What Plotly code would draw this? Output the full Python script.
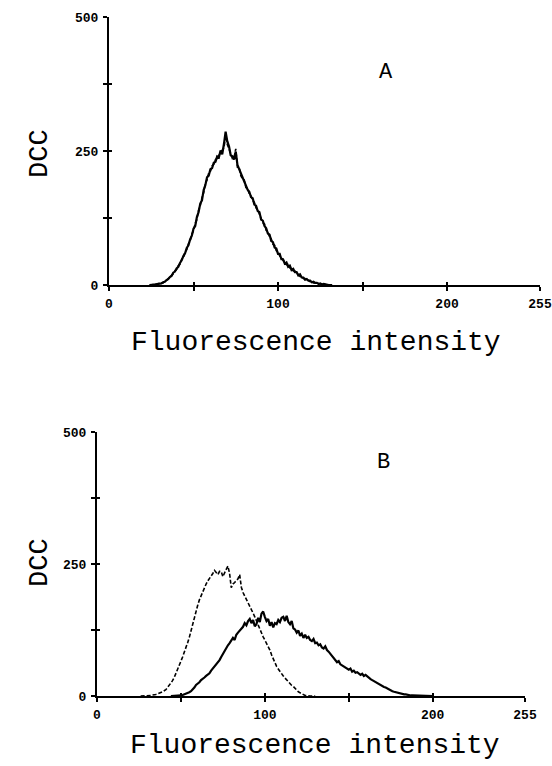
import plotly.graph_objects as go

# ---------------- data ----------------
# Panel A: channel 24..132
a_x = list(range(24, 133))
a_solid = [0, 0, 0, 1, 1, 2,
           2, 3, 5, 6, 9, 11, 15, 17, 23, 25,
           31, 34, 41, 46, 54, 59, 69, 74, 85, 92,
           105, 110, 127, 136, 152, 158, 177, 186, 201, 204,
           216, 218, 228, 230, 240, 238, 251, 244, 263, 286,
           268, 259, 242, 240, 234, 249, 224, 216, 207, 202,
           192, 186, 178, 174, 164, 162, 150, 148, 138, 136,
           122, 120, 110, 106, 96, 94, 82, 80, 70, 68,
           58, 58, 48, 48, 40, 42, 34, 36, 28, 30,
           24, 24, 18, 20, 14, 14, 10, 11, 8, 8,
           5, 6, 4, 4, 2, 3, 1, 2, 1, 1,
           0, 0, 0]
a_dashed = [0, 0, 1, 1, 2, 2,
            3, 4, 4, 7, 8, 12, 14, 18, 21, 26,
            29, 36, 39, 48, 51, 62, 66, 77, 82, 95,
            101, 115, 122, 140, 148, 163, 172, 190, 196, 209,
            212, 222, 225, 234, 236, 242, 246, 252, 256, 278,
            262, 254, 246, 236, 238, 254, 220, 220, 204, 198,
            196, 182, 180, 170, 166, 158, 154, 144, 140, 132,
            126, 116, 114, 102, 98, 90, 86, 76, 74, 64,
            62, 54, 52, 46, 44, 38, 38, 32, 30, 26,
            26, 22, 20, 16, 16, 12, 12, 9, 9, 6,
            6, 4, 4, 3, 3, 2, 2, 1, 1, 0,
            0, 0, 0]

# Panel B dashed (control): channel 26..130
b_dashed_x = list(range(26, 131))
b_dashed = [0, 0, 0, 0,
            0, 1, 1, 2, 2, 3, 4, 5, 6, 8,
            10, 12, 16, 20, 24, 29, 35, 42, 50, 58,
            66, 74, 82, 92, 101, 111, 124, 138, 150, 160,
            172, 182, 190, 198, 205, 212, 218, 222, 228, 232,
            238, 234, 230, 236, 236, 226, 234, 240, 246, 232,
            205, 212, 215, 218, 222, 230, 206, 196, 190, 182,
            176, 170, 163, 157, 150, 142, 135, 128, 120, 112,
            106, 100, 93, 87, 78, 70, 62, 56, 51, 46,
            42, 38, 34, 30, 27, 23, 20, 18, 14, 11,
            8, 6, 4, 2, 1, 1, 0, 0, 0, 0,
            0]

# Panel B solid (treated): channel 44..200
b_solid_x = list(range(44, 201))
b_solid = [0, 0, 0, 0, 0, 1,
           1, 2, 3, 4, 5, 7, 9, 12, 16, 21,
           23, 26, 30, 32, 35, 38, 41, 43, 48, 52,
           55, 60, 64, 68, 74, 80, 86, 90, 96, 100,
           104, 110, 106, 116, 120, 124, 128, 131, 138, 134,
           142, 146, 138, 144, 132, 136, 148, 140, 156, 160,
           150, 142, 146, 133, 140, 130, 138, 136, 144, 140,
           148, 150, 142, 152, 140, 136, 142, 128, 126, 120,
           124, 114, 118, 110, 116, 110, 112, 106, 104, 108,
           100, 101, 96, 98, 92, 90, 94, 87, 84, 80,
           75, 72, 68, 64, 66, 60, 58, 56, 54, 52,
           50, 52, 46, 48, 44, 45, 43, 40, 42, 38,
           40, 37, 34, 32, 30, 28, 26, 24, 22, 20,
           19, 17, 16, 14, 12, 11, 9, 8, 7, 6,
           6, 5, 4, 3, 3, 2, 2, 1, 1, 1,
           0, 0, 0, 0, 0, 0, 0, 0, 0, 0, 0]

x_tickvals = [0, 50, 100, 150, 200, 255]
x_ticktext = ["0", "", "100", "", "200", "255"]
y_tickvals = [0, 125, 250, 375, 500]
y_ticktext = ["0", "", "250", "", "500"]

# ---------------- figure ----------------
W, H = 552, 766
fig = go.Figure()

solid = dict(color="black", width=2.2)
dashed = dict(color="black", width=1.6, dash="4px,2px")

fig.add_trace(go.Scatter(x=a_x, y=a_dashed, mode="lines", line=dashed, xaxis="x", yaxis="y"))
fig.add_trace(go.Scatter(x=a_x, y=a_solid, mode="lines", line=solid, xaxis="x", yaxis="y"))
fig.add_trace(go.Scatter(x=b_dashed_x, y=b_dashed, mode="lines", line=dashed, xaxis="x2", yaxis="y2"))
fig.add_trace(go.Scatter(x=b_solid_x, y=b_solid, mode="lines", line=solid, xaxis="x2", yaxis="y2"))
# invisible traces to activate inner-tick overlay axes
fig.add_trace(go.Scatter(x=[None], y=[None], xaxis="x3", yaxis="y3", showlegend=False))
fig.add_trace(go.Scatter(x=[None], y=[None], xaxis="x4", yaxis="y4", showlegend=False))

tickfont = dict(family="Liberation Mono", size=13, color="black", weight="bold")


def xa(domain, anchor):
    return dict(domain=domain, anchor=anchor, range=[0, 255], tickmode="array",
                tickvals=x_tickvals, ticktext=x_ticktext, ticks="outside", ticklen=4,
                tickwidth=1.5, tickcolor="black", showline=True, linewidth=2,
                linecolor="black", showgrid=False, zeroline=False, tickfont=tickfont,
                ticklabelstandoff=1, automargin=False)


def ya(domain, anchor):
    return dict(domain=domain, anchor=anchor, range=[0, 500], tickmode="array",
                tickvals=y_tickvals, ticktext=y_ticktext, ticks="outside", ticklen=4,
                tickwidth=1.5, tickcolor="black", showline=True, linewidth=2,
                linecolor="black", showgrid=False, zeroline=False, tickfont=tickfont,
                ticklabelstandoff=2, automargin=False)


def inner_x(over, anchor):
    return dict(overlaying=over, anchor=anchor, range=[0, 255], tickmode="array",
                tickvals=x_tickvals, ticks="inside", ticklen=3, tickwidth=1.5,
                tickcolor="black", showticklabels=False, showline=False,
                showgrid=False, zeroline=False, automargin=False)


def inner_y(over, anchor):
    return dict(overlaying=over, anchor=anchor, range=[0, 500], tickmode="array",
                tickvals=y_tickvals, ticks="inside", ticklen=3, tickwidth=1.5,
                tickcolor="black", showticklabels=False, showline=False,
                showgrid=False, zeroline=False, automargin=False)


top_x = [109 / W, 540 / W]
top_y = [1 - 285 / H, 1 - 17 / H]
bot_x = [97 / W, 525 / W]
bot_y = [1 - 696 / H, 1 - 432 / H]

fig.update_layout(
    width=W, height=H,
    margin=dict(l=0, r=0, t=0, b=0, autoexpand=False),
    paper_bgcolor="white", plot_bgcolor="white",
    showlegend=False,
    xaxis=xa(top_x, "y"), yaxis=ya(top_y, "x"),
    xaxis2=xa(bot_x, "y2"), yaxis2=ya(bot_y, "x2"),
    xaxis3=inner_x("x", "y3"), yaxis3=inner_y("y", "x3"),
    xaxis4=inner_x("x2", "y4"), yaxis4=inner_y("y2", "x4"),
)

lab = dict(family="Liberation Mono", color="black")
ann = [
    dict(text="DCC", x=40 / W, y=1 - 154 / H, textangle=-90, font=dict(size=27, **lab)),
    dict(text="A", x=386 / W, y=1 - 72 / H, font=dict(size=22, **lab)),
    dict(text="Fluorescence intensity", x=316 / W, y=1 - 342 / H, font=dict(size=28, **lab)),
    dict(text="DCC", x=40 / W, y=1 - 563 / H, textangle=-90, font=dict(size=27, **lab)),
    dict(text="B", x=383 / W, y=1 - 462 / H, font=dict(size=22, **lab)),
    dict(text="Fluorescence intensity", x=315 / W, y=1 - 745 / H, font=dict(size=28, **lab)),
]
for a in ann:
    a.update(xref="paper", yref="paper", showarrow=False, xanchor="center", yanchor="middle")
fig.update_layout(annotations=ann)

fig.write_html(
    "out.html",
    config={"displayModeBar": False},
    post_script="document.body.style.margin='0';document.body.style.padding='0';"
                "document.body.style.overflow='hidden';",
)
